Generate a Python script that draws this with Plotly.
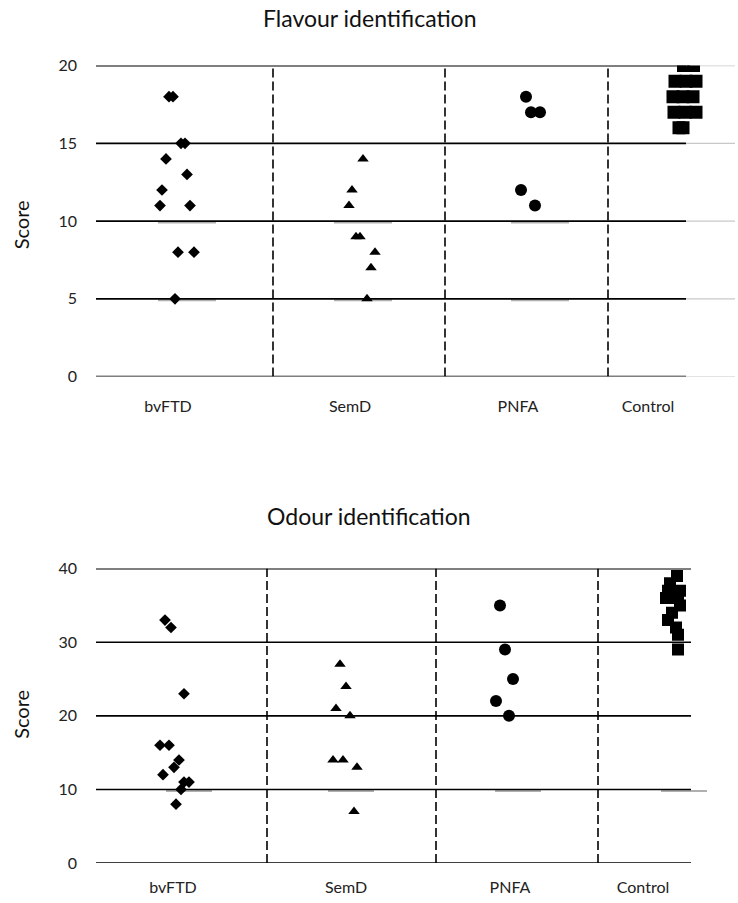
import plotly.graph_objects as go

# ---------------- data ----------------
groups = ["bvFTD", "SemD", "PNFA", "Control"]

# x-axis units: 1 unit = 1/6.39 of plot width
flav_centers = [0.72, 2.54, 4.22, 5.52]
odour_centers = [0.77, 2.50, 4.14, 5.47]
flav_dividers = [1.77, 3.49, 5.12]
odour_dividers = [1.71, 3.40, 5.02]

# Flavour identification scores (and horizontal jitter offsets)
flav_bvftd = [18, 18, 15, 15, 14, 13, 12, 11, 11, 8, 8, 5]
flav_bvftd_jit = [0.01, 0.05, 0.13, 0.17, -0.02, 0.19, -0.06, -0.08, 0.22, 0.10, 0.26, 0.07]
flav_semd = [14, 12, 11, 9, 9, 8, 7, 5]
flav_semd_jit = [0.13, 0.02, -0.01, 0.06, 0.10, 0.25, 0.21, 0.17]
flav_pnfa = [18, 17, 17, 12, 11]
flav_pnfa_jit = [0.08, 0.13, 0.22, 0.03, 0.17]
flav_control = [20, 20, 19, 19, 19, 18, 18, 18, 17, 17, 17, 16, 16]
flav_control_jit = [0.355, 0.455, 0.27, 0.38, 0.48, 0.25, 0.35, 0.45, 0.26, 0.37, 0.48, 0.31, 0.35]

# Odour identification scores (and horizontal jitter offsets)
odour_bvftd = [33, 32, 23, 16, 16, 14, 13, 12, 11, 11, 10, 8]
odour_bvftd_jit = [-0.08, -0.02, 0.11, -0.13, -0.04, 0.06, 0.01, -0.10, 0.16, 0.11, 0.08, 0.03]
odour_semd = [27, 24, 21, 20, 14, 14, 13, 7]
odour_semd_jit = [-0.06, 0.00, -0.10, 0.04, -0.13, -0.03, 0.11, 0.08]
odour_pnfa = [35, 29, 25, 22, 20]
odour_pnfa_jit = [-0.10, -0.05, 0.03, -0.14, -0.01]
odour_control = [39, 38, 37, 37, 36, 36, 35, 34, 33, 32, 31, 29]
odour_control_jit = [0.34, 0.27, 0.37, 0.25, 0.23, 0.35, 0.37, 0.29, 0.25, 0.33, 0.35, 0.35]

flav_ticks = [0, 5, 10, 15, 20]
odour_ticks = [0, 10, 20, 30, 40]

# short grey segments along gridlines (group index, y value)
flav_grey = [(0, 10), (0, 5), (1, 10), (1, 5), (2, 10), (2, 5)]
odour_grey = [(0, 10), (1, 10), (2, 10), (3, 10)]

FONT = "Lato, 'Open Sans', sans-serif"
symbols = ["diamond", "triangle-up", "circle", "square"]
flav_sizes = [9, 10, 12, 13]
odour_sizes = [9, 10, 12, 12]

fig = go.Figure()

flav_sets = [(flav_bvftd, flav_bvftd_jit), (flav_semd, flav_semd_jit),
             (flav_pnfa, flav_pnfa_jit), (flav_control, flav_control_jit)]
odour_sets = [(odour_bvftd, odour_bvftd_jit), (odour_semd, odour_semd_jit),
              (odour_pnfa, odour_pnfa_jit), (odour_control, odour_control_jit)]

for i, (vals, jit) in enumerate(flav_sets):
    fig.add_trace(go.Scatter(
        x=[flav_centers[i] + j for j in jit], y=vals, mode="markers",
        marker=dict(symbol=symbols[i], size=flav_sizes[i], color="black",
                    line=dict(width=0)),
        xaxis="x", yaxis="y", showlegend=False, hoverinfo="y"))

for i, (vals, jit) in enumerate(odour_sets):
    fig.add_trace(go.Scatter(
        x=[odour_centers[i] + j for j in jit], y=vals, mode="markers",
        marker=dict(symbol=symbols[i], size=odour_sizes[i], color="black",
                    line=dict(width=0)),
        xaxis="x2", yaxis="y2", showlegend=False, hoverinfo="y"))

shapes = []
# grey segments (below black gridlines, slightly offset down)
for gi, yv in flav_grey:
    c = flav_centers[gi] + [0.19, 0.13, 0.22][gi]
    shapes.append(dict(type="line", xref="x", yref="y", x0=c - 0.29, x1=c + 0.29,
                       ysizemode="pixel", yanchor=yv, y0=-1.5, y1=-1.5,
                       line=dict(color="#b0b0b0", width=2), layer="below"))
for gi, yv in odour_grey:
    c = odour_centers[gi] + [0.16, 0.05, 0.08, 0.41][gi]
    shapes.append(dict(type="line", xref="x2", yref="y2", x0=c - 0.23, x1=c + 0.23,
                       ysizemode="pixel", yanchor=yv, y0=-1.5, y1=-1.5,
                       line=dict(color="#b0b0b0", width=2), layer="below"))

# gridlines
for t in flav_ticks:
    shapes.append(dict(type="line", xref="x", yref="y", x0=0, x1=5.9, y0=t, y1=t,
                       line=dict(color="black", width=1.6), layer="below"))
    shapes.append(dict(type="line", xref="x", yref="y", x0=5.9, x1=6.39, y0=t, y1=t,
                       line=dict(color="#c8c8c8", width=1.3), layer="below"))
for t in odour_ticks:
    shapes.append(dict(type="line", xref="x2", yref="y2", x0=0, x1=5.95, y0=t, y1=t,
                       line=dict(color="black", width=1.6), layer="below"))

# dashed dividers
for d in flav_dividers:
    shapes.append(dict(type="line", xref="x", yref="y", x0=d, x1=d, y0=0, y1=20,
                       line=dict(color="black", width=1.6, dash="9px,4px"), layer="below"))
for d in odour_dividers:
    shapes.append(dict(type="line", xref="x2", yref="y2", x0=d, x1=d, y0=0, y1=40,
                       line=dict(color="black", width=1.6, dash="9px,4px"), layer="below"))

W, H = 738, 903
x_dom = [96 / W, 735 / W]

axis_font = dict(family=FONT, size=16, color="#222")

fig.update_layout(
    width=W, height=H,
    margin=dict(l=0, r=0, t=0, b=0),
    paper_bgcolor="white", plot_bgcolor="white",
    font=dict(family=FONT, color="#222"),
    shapes=shapes,
    xaxis=dict(domain=x_dom, range=[0, 6.39], tickvals=flav_centers, ticktext=groups,
               showgrid=False, zeroline=False, showline=False, ticks="",
               tickfont=axis_font, ticklabelstandoff=18, anchor="y"),
    yaxis=dict(domain=[1 - 374.5 / H, 1 - 56.8 / H], range=[0, 20], tickvals=flav_ticks,
               showgrid=False, zeroline=False, showline=False, ticks="",
               tickfont=axis_font, ticklabelstandoff=18, anchor="x"),
    xaxis2=dict(domain=x_dom, range=[0, 6.39], tickvals=odour_centers, ticktext=groups,
                showgrid=False, zeroline=False, showline=False, ticks="",
                tickfont=axis_font, ticklabelstandoff=13, anchor="y2"),
    yaxis2=dict(domain=[1 - 871.4 / H, 1 - 570.6 / H], range=[0, 40], tickvals=odour_ticks,
                showgrid=False, zeroline=False, showline=False, ticks="",
                tickfont=axis_font, ticklabelstandoff=18, anchor="x2"),
    annotations=[
        dict(text="Flavour identification", x=0.5, y=1 - 8 / H, xref="paper", yref="paper",
             showarrow=False, font=dict(family=FONT, size=23, color="#111"),
             xanchor="center", yanchor="middle"),
        dict(text="Odour identification", x=0.5, y=1 - 517 / H, xref="paper", yref="paper",
             showarrow=False, font=dict(family=FONT, size=23, color="#111"),
             xanchor="center", yanchor="middle"),
        dict(text="Score", x=21 / W, y=1 - 220 / H, xref="paper", yref="paper",
             showarrow=False, textangle=-90, font=dict(family=FONT, size=20, color="#111"),
             xanchor="center", yanchor="middle"),
        dict(text="Score", x=21 / W, y=1 - 720 / H, xref="paper", yref="paper",
             showarrow=False, textangle=-90, font=dict(family=FONT, size=20, color="#111"),
             xanchor="center", yanchor="middle"),
    ],
)

fig.write_html("out.html", config={"displayModeBar": False},
               post_script="document.body.style.margin='0';")
